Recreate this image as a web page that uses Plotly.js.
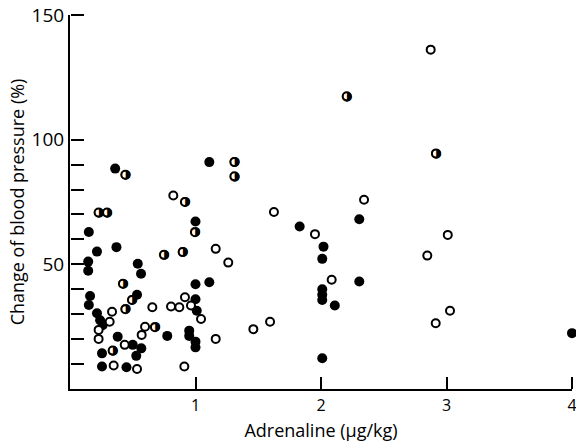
<!DOCTYPE html>
<html><head><meta charset="utf-8">
<script src="https://cdn.plot.ly/plotly-3.0.1.min.js"></script>
<style>body{margin:0;background:#fff}</style>
</head><body><div id="chart" style="width:576px;height:442px"></div>
<script>
// Filled circles
const filledX = [0.36,1.11,1.00,0.15,0.215,0.37,0.145,0.145,0.54,0.566,1.00,1.11,0.16,0.15,0.534,1.00,1.01,0.215,0.24,0.26,0.38,0.775,0.95,0.95,1.00,1.00,0.50,0.568,0.528,0.255,0.255,0.45,1.83,2.305,2.02,2.01,2.305,2.01,2.01,2.01,2.11,2.01,4.0];
const filledY = [88.4,91,67.2,63,55.1,56.9,51.1,47.4,50.2,46.2,42,42.8,37.3,33.7,37.8,36,31.4,30.4,27.6,25.6,21,21.3,23.4,21.3,19,16.7,17.7,16.3,13.3,14.3,9,8.7,65.2,68.1,57.1,52.2,43.1,40,37.8,35.7,33.5,12.3,22.4];
// Open circles
const openX = [0.823,1.161,0.335,0.316,0.228,0.228,0.656,0.805,0.871,0.916,0.964,1.044,0.598,0.571,0.436,0.348,0.534,0.911,1.161,1.261,1.461,2.343,1.625,1.952,2.085,1.594,2.874,3.01,2.847,3.028,2.914];
const openY = [77.6,56.2,31,27,23.7,20.1,32.8,33.1,32.8,36.8,33.5,28.1,25,21.7,17.7,9.4,8,9,20.1,50.7,24,75.9,71,62.1,43.8,27,136.1,61.8,53.5,31.4,26.4];
// Half-filled circles
const halfX = [0.441,0.228,0.295,0.916,1.31,1.31,0.996,0.749,0.898,0.422,0.494,0.441,0.677,0.34,2.205,2.916];
const halfY = [85.9,70.8,70.8,75,91,85.3,62.9,53.8,54.9,42.2,35.7,32,24.8,15.4,117.4,94.5];

const yTickVals = [10,20,30,40,50,60,70,80,90,100,150];
const yTickText = ['','','','','50','','','','','100','150'];
const xTickVals = [1,2,3,4];
const xTickText = ['1','2','3','4'];

const FONT = '"Open Sans", Lato, sans-serif';
const X_RANGE = [0,4], Y_RANGE = [0,150];
const traces = [
  {x: filledX, y: filledY, type:'scatter', mode:'markers', cliponaxis:false,
   marker:{symbol:'circle', size:10, color:'black', line:{width:0}}},
  {x: halfX, y: halfY, type:'scatter', mode:'text', cliponaxis:false,
   text: halfX.map(()=>'\u25D1'), textposition:'middle center',
   textfont:{family:'DejaVu Sans', size:13, color:'black'}},
  {x: halfX, y: halfY, type:'scatter', mode:'markers', cliponaxis:false,
   marker:{symbol:'circle', size:8, color:'rgba(0,0,0,0)', line:{color:'black', width:2}}},
  {x: openX, y: openY, type:'scatter', mode:'markers', cliponaxis:false, xaxis:'x2', yaxis:'y2',
   marker:{symbol:'circle', size:8, color:'white', line:{color:'black', width:2}}}
];
const layout = {
  width:576, height:442, showlegend:false,
  paper_bgcolor:'white', plot_bgcolor:'white',
  margin:{l:70, r:4, t:15, b:53},
  font:{family:FONT, color:'black'},
  xaxis:{range:X_RANGE, showline:true, linewidth:2, linecolor:'black', showgrid:false, zeroline:false,
    tickmode:'array', ticks:'', tickvals:xTickVals, ticktext:xTickText,
    ticklabeloverflow:'allow', ticklabelstandoff:1,
    tickfont:{size:16, family:FONT}, fixedrange:true,
    title:{text:'Adrenaline (\u03BCg/kg)', font:{size:18, family:FONT}, standoff:10}},
  yaxis:{range:Y_RANGE, showline:true, linewidth:2, linecolor:'black', showgrid:false, zeroline:false,
    tickmode:'array', ticks:'', tickvals:yTickVals, ticktext:yTickText,
    ticklabeloverflow:'allow',
    tickfont:{size:19, family:FONT}, fixedrange:true,
    title:{text:'Change of blood pressure (%)', font:{size:18, family:FONT}, standoff:2}},
  // companion axes that carry the inward-pointing tick marks
  xaxis2:{overlaying:'x', anchor:'free', position:0, side:'top', range:X_RANGE,
    showline:false, showgrid:false, zeroline:false, showticklabels:false,
    tickmode:'array', tickvals:xTickVals, ticks:'outside', ticklen:12, tickwidth:2, tickcolor:'#000000', fixedrange:true},
  yaxis2:{overlaying:'y', anchor:'free', position:0, side:'right', range:Y_RANGE,
    showline:false, showgrid:false, zeroline:false, showticklabels:false,
    tickmode:'array', tickvals:yTickVals, ticks:'outside', ticklen:13, tickwidth:2, tickcolor:'#000000', fixedrange:true}
};
Plotly.newPlot('chart', traces, layout, {staticPlot:true});
</script></body></html>
